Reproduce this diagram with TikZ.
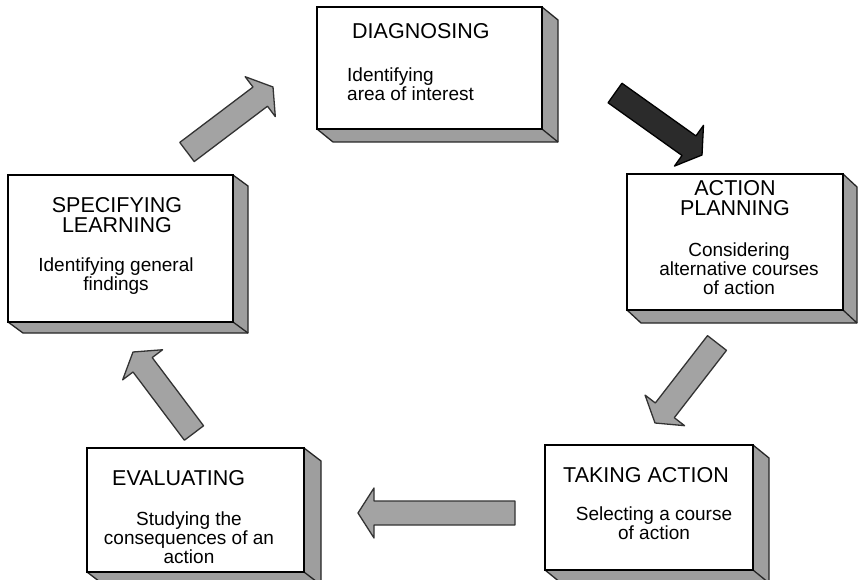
\documentclass[tikz,border=0pt]{standalone}
\usepackage{fontspec}
\setmainfont{Liberation Sans}
\usetikzlibrary{calc}
\tikzset{
  frontbox/.style={draw=black, line width=1.7pt, fill=white, inner sep=0pt, outer sep=0pt},
  sideface/.style={draw=black!85, line width=1.3pt, fill=black!38, line join=round},
  ttl/.style={font=\fontsize{21.5}{20}\selectfont, inner sep=0pt},
  bdy/.style={font=\fontsize{19}{19}\selectfont, inner sep=0pt},
  grayarrow/.style={draw=black!80, line width=1.3pt, fill=black!36, line join=round},
  darkarrow/.style={draw=black, line width=1.3pt, fill=black!83, line join=round},
}
% name, x1, y1, x2, y2, dx, dy
\newcommand\threedbox[7]{%
  \node[frontbox, minimum width={(#4-#2)*1pt}, minimum height={(#5-#3)*1pt}] (#1) at ({(#2+#4)/2},{(#3+#5)/2}) {};
  \filldraw[sideface] (#1.north east) -- ++(#6,#7) -- ($(#1.south east)+(#6,#7)$) -- ($(#1.south west)+(#6,#7)$) -- (#1.south west) -- (#1.south east) -- cycle;
  \draw[sideface] (#1.south east) -- ++(#6,#7);
  \node[frontbox, minimum width={(#4-#2)*1pt}, minimum height={(#5-#3)*1pt}] at (#1) {};
}
% tail, tip, style
\newcommand\blockarrow[3]{%
  \coordinate (#1-h) at ($(#2)!16pt!(#1)$);
  \draw[#3] ($(#1)!12pt!90:(#2)$) -- ($(#1-h)!12pt!90:(#2)$) -- ($(#1-h)!25pt!90:(#2)$) -- (#2)
    -- ($(#1-h)!25pt!-90:(#2)$) -- ($(#1-h)!12pt!-90:(#2)$) -- ($(#1)!12pt!-90:(#2)$) -- cycle;
}
\begin{document}
\begin{tikzpicture}[x=1pt,y=-1pt]
  \fill[white] (0,0) rectangle (858,580);
  \useasboundingbox (0,0) rectangle (858,580);
  \begin{scope}
  \clip (0,0) rectangle (858,580);
  % boxes
  \threedbox{diag}{317}{7}{542}{129}{16}{13}
  \threedbox{plan}{627}{174}{843}{310}{14}{13}
  \threedbox{spec}{8}{175}{233}{322}{15}{11}
  \threedbox{eval}{87}{448}{304}{572}{17}{13}
  \threedbox{take}{545}{445}{753}{570}{16}{13}
  \end{scope}
  % texts
  \node[ttl, anchor=base west] (diagt) at (352,39) {DIAGNOSING};
  \node[bdy, anchor=north west, align=left] (diagb) at (347,68) {Identifying\\area of interest};
  \node[ttl, anchor=north, align=center] (plant) at (735,180) {ACTION\\PLANNING};
  \node[bdy, anchor=north, align=center] (planb) at (739,243) {Considering\\alternative courses\\of action};
  \node[ttl, anchor=north, align=center] (spect) at (117,197) {SPECIFYING\\LEARNING};
  \node[bdy, anchor=north, align=center] (specb) at (116,258) {Identifying general\\findings};
  \node[ttl, anchor=base west] (evalt) at (112,485) {EVALUATING};
  \node[bdy, anchor=north, align=center] (evalb) at (189,512) {Studying the\\consequences of an\\action};
  \node[ttl, anchor=base west] (taket) at (563,482) {TAKING ACTION};
  \node[bdy, anchor=north, align=center] (takeb) at (654,507) {Selecting a course\\of action};
  % arrows
  \coordinate (a1) at (187,152); \coordinate (a1e) at (273,87);
  \coordinate (a2) at (615,93);  \coordinate (a2e) at (702,155);
  \coordinate (a3) at (717,343); \coordinate (a3e) at (655,423);
  \coordinate (a4) at (515,513); \coordinate (a4e) at (358,513);
  \coordinate (a5) at (194,433); \coordinate (a5e) at (133,352);
  \blockarrow{a1}{a1e}{grayarrow}
  \blockarrow{a2}{a2e}{darkarrow}
  \blockarrow{a3}{a3e}{grayarrow}
  \blockarrow{a4}{a4e}{grayarrow}
  \blockarrow{a5}{a5e}{grayarrow}
\end{tikzpicture}
\end{document}
